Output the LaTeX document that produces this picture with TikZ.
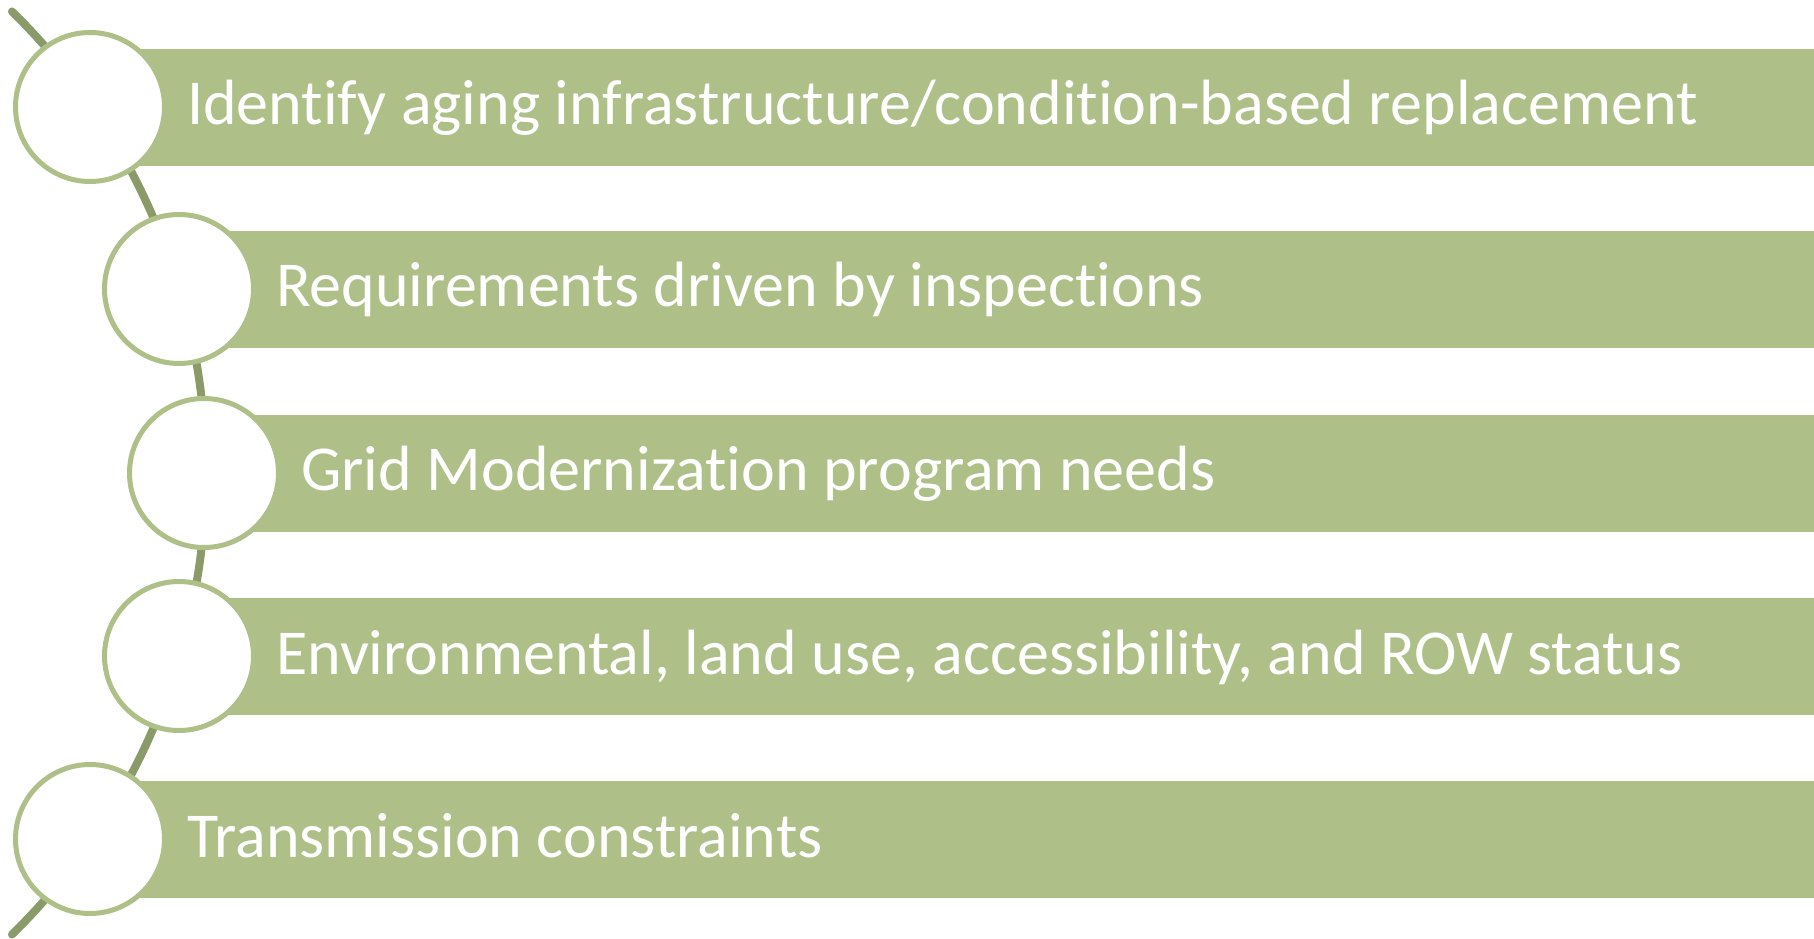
\documentclass[tikz,border=0pt]{standalone}
\usepackage{fontspec}
\setmainfont{Carlito}[Ligatures=NoCommon]
\definecolor{bandgreen}{HTML}{AEC087}
\definecolor{spinegreen}{HTML}{8A9A69}

\begin{document}
\begin{tikzpicture}[x=1pt,y=1pt,
			bullet/.style={circle,draw=bandgreen,fill=white,line width=5pt,minimum size=149pt,inner sep=0pt},
			band/.style={rectangle,fill=bandgreen,draw=white,line width=0.8pt,minimum height=118pt,anchor=west,inner sep=0pt},
			caption/.style={anchor=base west,text=white,inner sep=0pt,font=\fontsize{64}{77}\selectfont}]
			\useasboundingbox (0,0) rectangle (1814,938);
			% curved spine behind the circles
			\coordinate (hub) at (-440,465);
			\draw[spinegreen,line width=8pt,line cap=round] ([shift={(45.6:646)}]hub) arc[start angle=45.6,end angle=-45.6,radius=646];
			% bands
			\node[band,minimum width=1724pt] (b1) at (90,831) {};
			\node[band,minimum width=1635pt] (b2) at (179,649) {};
			\node[band,minimum width=1610pt] (b3) at (204,465) {};
			\node[band,minimum width=1635pt] (b4) at (179,282) {};
			\node[band,minimum width=1724pt] (b5) at (90,99) {};
			% circles on the spine
			\node[bullet] (c1) at (b1.west) {};
			\node[bullet] (c2) at (b2.west) {};
			\node[bullet] (c3) at (b3.west) {};
			\node[bullet] (c4) at (b4.west) {};
			\node[bullet] (c5) at (b5.west) {};
			% texts
			\node[caption] (t1) at ([xshift=20pt,yshift=-18pt]c1.east) {Identify aging infrastructure/condition-based replacement};
			\node[caption] (t2) at ([xshift=20pt,yshift=-18pt]c2.east) {Requirements driven by inspections};
			\node[caption] (t3) at ([xshift=20pt,yshift=-18pt]c3.east) {Grid Modernization program needs};
			\node[caption] (t4) at ([xshift=20pt,yshift=-18pt]c4.east) {Environmental, land use, accessibility, and ROW status};
			\node[caption] (t5) at ([xshift=20pt,yshift=-18pt]c5.east) {Transmission constraints};
		\end{tikzpicture}
\end{document}
